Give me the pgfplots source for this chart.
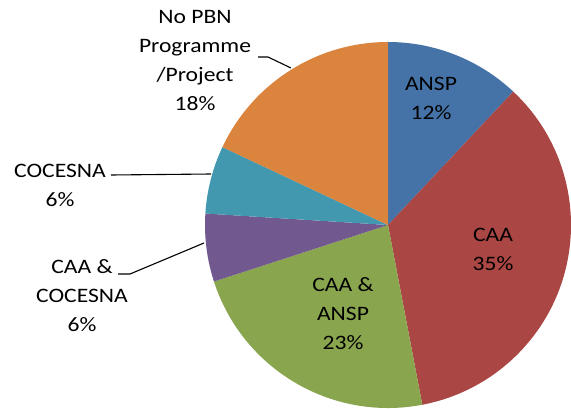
\documentclass[border=0pt]{standalone}
\usepackage{pgfplots}
\pgfplotsset{compat=1.18}
\usepackage{pgfplotstable}
\usepackage{fontspec}
\setmainfont{Carlito}[FakeStretch=1.15]

\definecolor{pie0}{HTML}{4573A7}
\definecolor{pie1}{HTML}{AA4644}
\definecolor{pie2}{HTML}{89A54E}
\definecolor{pie3}{HTML}{71588F}
\definecolor{pie4}{HTML}{4198AF}
\definecolor{pie5}{HTML}{DB843D}

% shares in percent, clockwise from 12 o'clock
\pgfplotstableread{
name share
ANSP 12
CAA 35
CAA&ANSP 23
CAA&COCESNA 6
COCESNA 6
NoPBN 18
}\piedata

\begin{document}
\begin{tikzpicture}[font=\fontsize{20.5}{29}\selectfont]
\gdef\cum{0}
\foreach \i in {0,...,5}{%
  \pgfplotstablegetelem{\i}{share}\of\piedata
  \pgfmathsetmacro{\a}{90-3.6*\cum}
  \pgfmathsetmacro{\b}{90-3.6*(\cum+\pgfplotsretval)}
  \expandafter\xdef\csname pa\i\endcsname{\a}
  \expandafter\xdef\csname pb\i\endcsname{\b}
  \pgfmathsetmacro{\c}{\cum+\pgfplotsretval}
  \xdef\cum{\c}
}
\begin{axis}[
  name=ax,
  hide axis, scale only axis,
  x=1pt, y=1pt,
  xmin=-388, xmax=183, ymin=-183, ymax=225,
  clip=false,
]
\pgfplotsinvokeforeach{0,...,5}{
  \fill[pie#1] (axis cs:0,0)
    -- (axis cs:{183*cos(\csname pa#1\endcsname)},{183*sin(\csname pa#1\endcsname)})
    arc[start angle=\csname pa#1\endcsname, end angle=\csname pb#1\endcsname, radius=183pt]
    -- cycle;
}
% labels
\node[align=center] at (axis cs:43,127) {ANSP\\12\%};
\node[align=center] at (axis cs:105,-24) {CAA\\35\%};
\node[align=center] at (axis cs:-45,-89) {CAA \&\\ANSP\\23\%};
\node[align=center] at (axis cs:-193,164) {No PBN\\Programme\\/Project\\18\%};
\node[align=center] at (axis cs:-328,40) {COCESNA\\6\%};
\node[align=center] at (axis cs:-306,-71) {CAA \&\\COCESNA\\6\%};
% leader lines
\draw[line width=1.1pt] (axis cs:-130,168) -- (axis cs:-120,168) -- (axis cs:-97,157);
\draw[line width=1.1pt] (axis cs:-277,50) -- (axis cs:-177,51);
\draw[line width=1.1pt] (axis cs:-270,-49) -- (axis cs:-258,-49) -- (axis cs:-184,-18);
\end{axis}
\pgfresetboundingbox
\useasboundingbox (ax.south west) rectangle (ax.north east);
\end{tikzpicture}
\end{document}
